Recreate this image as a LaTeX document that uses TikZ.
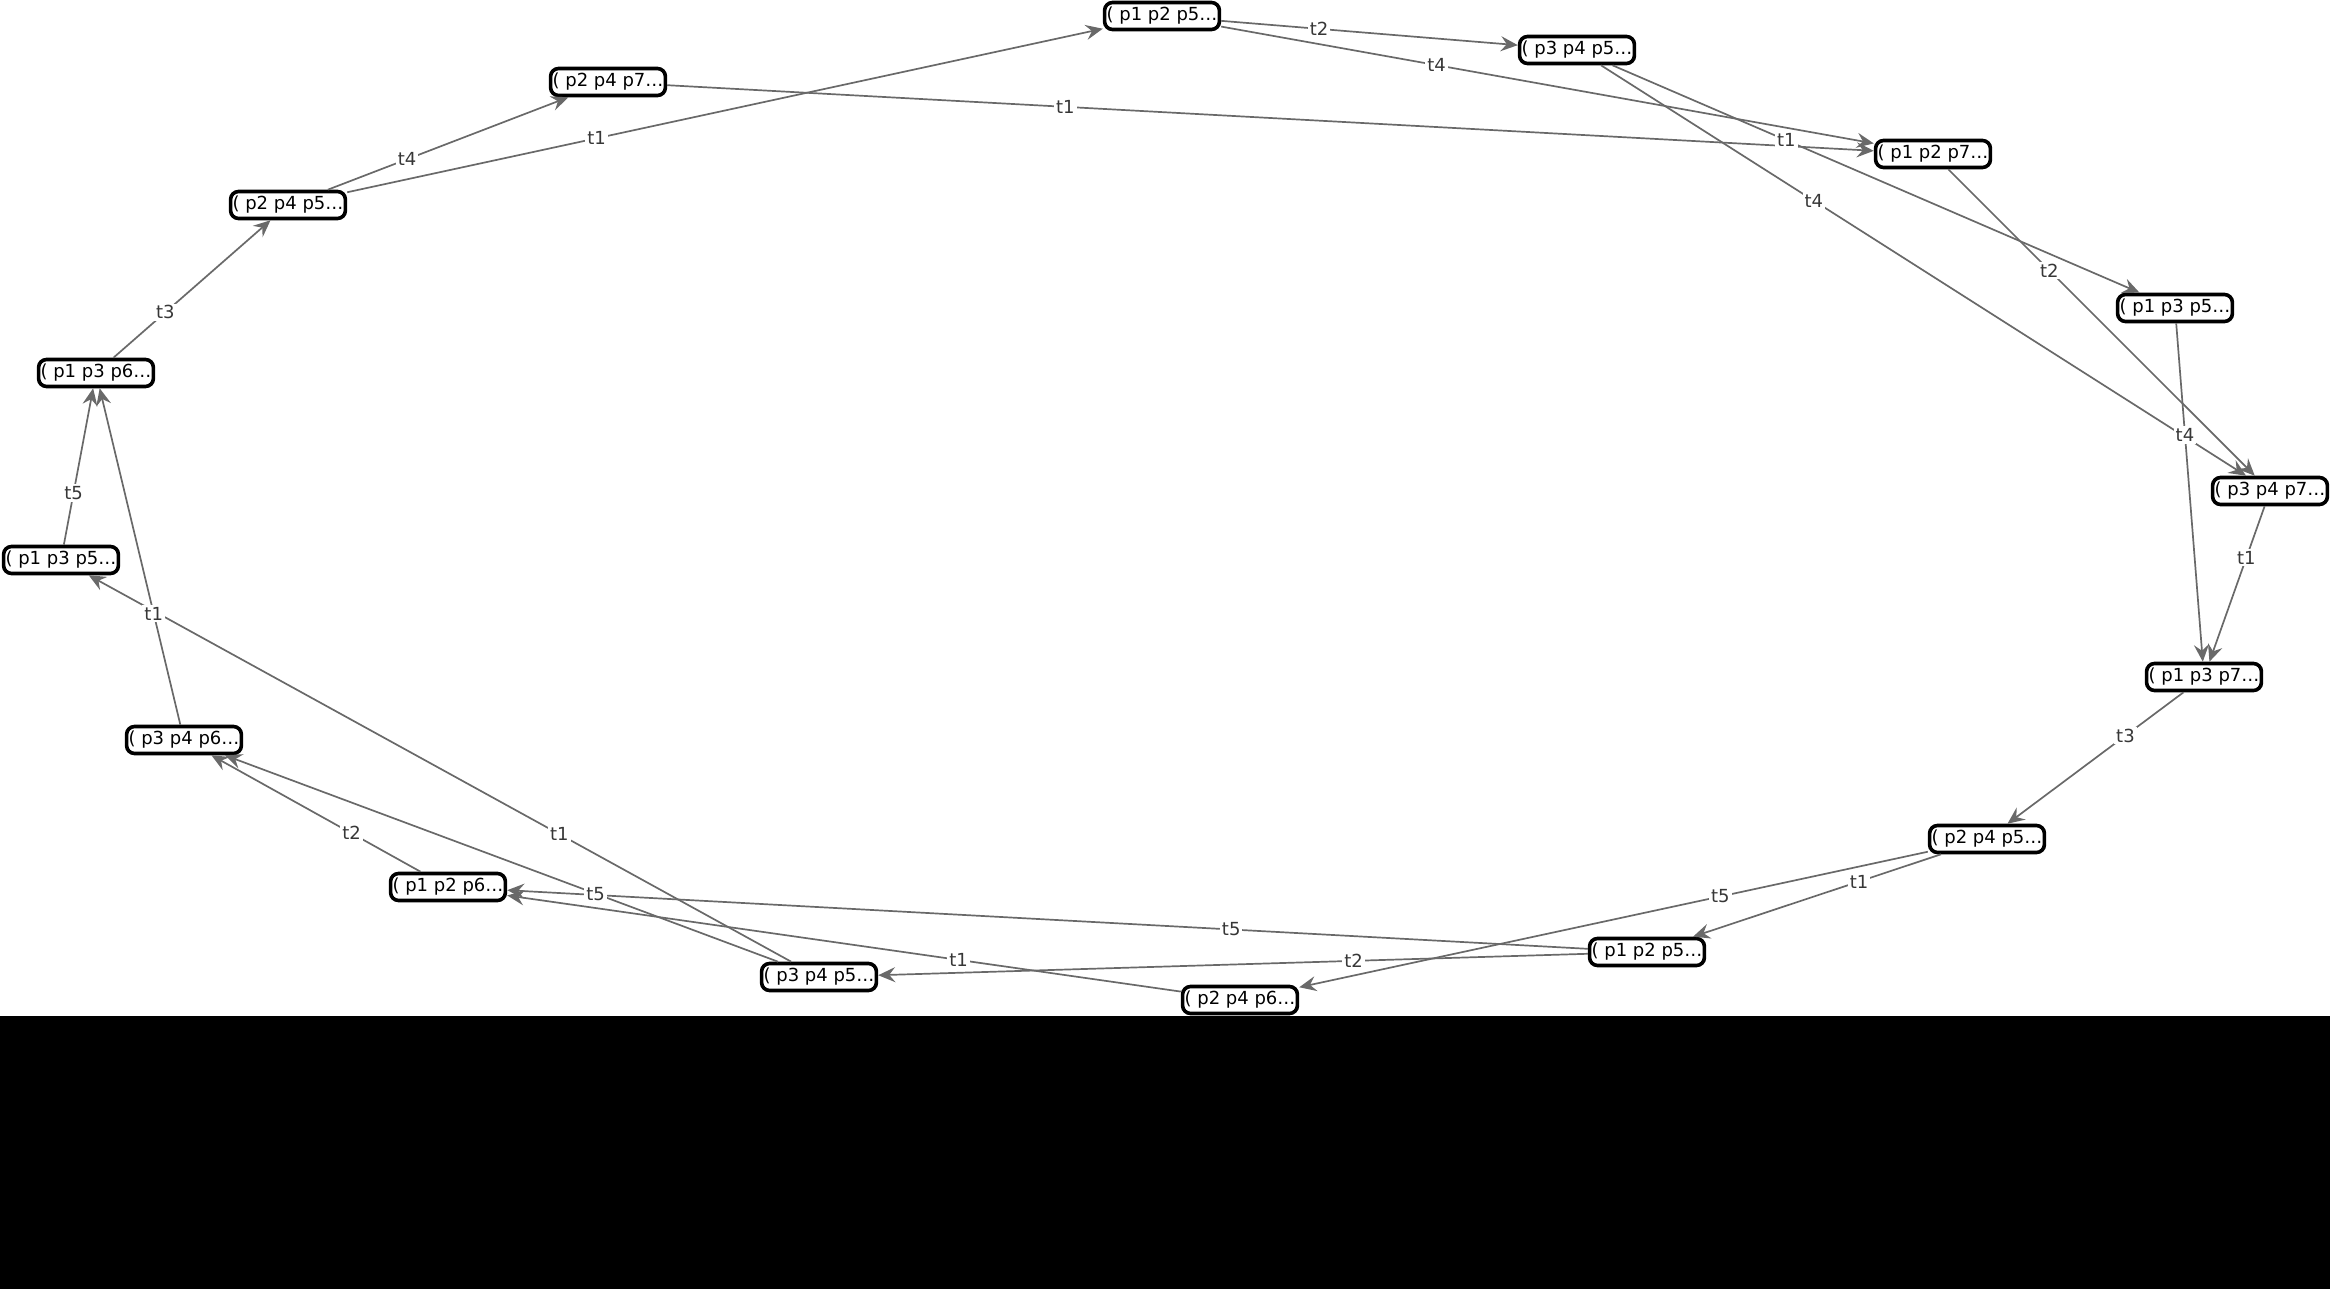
\documentclass[tikz,border=0pt]{standalone}
\usepackage{fontspec}
\setmainfont{DejaVu Sans}
\usetikzlibrary{arrows.meta}
\definecolor{edgegray}{RGB}{105,105,105}
\definecolor{labgray}{RGB}{55,55,55}
\begin{document}
\begin{tikzpicture}[x=0.5pt,y=-0.5pt,
 state/.style={draw=black, line width=1.8pt, rounded corners=4pt, fill=white,
   minimum width=57pt, minimum height=13.5pt, inner sep=1pt,
   font=\fontsize{9}{10}\selectfont},
 tr/.style={draw=edgegray, line width=0.85pt, -{Stealth[length=8.5pt,width=7.5pt,inset=3pt]}},
 lab/.style={fill=white, text=labgray, inner sep=1pt, font=\fontsize{9}{10}\selectfont, pos=0.33}]
\useasboundingbox (0,0) rectangle (2330,1289);
\fill[black] (0,1016) rectangle (2330,1289);

\node[state] (A) at (1162,16) {( p1 p2 p5…};
\node[state] (B) at (1577,50) {( p3 p4 p5…};
\node[state] (C) at (1933,154) {( p1 p2 p7…};
\node[state] (D) at (2175,308) {( p1 p3 p5…};
\node[state] (E) at (2270,491) {( p3 p4 p7…};
\node[state] (F) at (2204,677) {( p1 p3 p7…};
\node[state] (G) at (1987,839) {( p2 p4 p5…};
\node[state] (H) at (1647,952) {( p1 p2 p5…};
\node[state] (I) at (1240,1000) {( p2 p4 p6…};
\node[state] (J) at (819,977) {( p3 p4 p5…};
\node[state] (K) at (448,887) {( p1 p2 p6…};
\node[state] (L) at (184,740) {( p3 p4 p6…};
\node[state] (M) at (61,560) {( p1 p3 p5…};
\node[state] (N) at (96,373) {( p1 p3 p6…};
\node[state] (O) at (288,205) {( p2 p4 p5…};
\node[state] (P) at (608,82) {( p2 p4 p7…};

\draw[tr] (N) -- (O);
\draw[tr] (O) -- (P);
\draw[tr] (O) -- (A);
\draw[tr] (P) -- (C);
\draw[tr] (A) -- (B);
\draw[tr] (A) -- (C);
\draw[tr] (B) -- (D);
\draw[tr] (B) -- (E);
\draw[tr] (C) -- (E);
\draw[tr] (D) -- (F);
\draw[tr] (E) -- (F);
\draw[tr] (F) -- (G);
\draw[tr] (G) -- (H);
\draw[tr] (G) -- (I);
\draw[tr] (H) -- (K);
\draw[tr] (H) -- (J);
\draw[tr] (I) -- (K);
\draw[tr] (J) -- (L);
\draw[tr] (J) -- (M);
\draw[tr] (K) -- (L);
\draw[tr] (L) -- (N);
\draw[tr] (M) -- (N);

\path (N) -- node[lab] (l1) {t3} (O);
\path (O) -- node[lab] (l2) {t4} (P);
\path (O) -- node[lab] (l3) {t1} (A);
\path (P) -- node[lab] (l4) {t1} (C);
\path (A) -- node[lab] (l5) {t2} (B);
\path (A) -- node[lab] (l6) {t4} (C);
\path (B) -- node[lab] (l7) {t1} (D);
\path (B) -- node[lab] (l8) {t4} (E);
\path (C) -- node[lab] (l9) {t2} (E);
\path (D) -- node[lab] (l10) {t4} (F);
\path (E) -- node[lab] (l11) {t1} (F);
\path (F) -- node[lab] (l12) {t3} (G);
\path (G) -- node[lab] (l13) {t1} (H);
\path (G) -- node[lab] (l14) {t5} (I);
\path (H) -- node[lab] (l15) {t5} (K);
\path (H) -- node[lab] (l16) {t2} (J);
\path (I) -- node[lab] (l17) {t1} (K);
\path (J) -- node[lab] (l18) {t5} (L);
\path (J) -- node[lab] (l19) {t1} (M);
\path (K) -- node[lab] (l20) {t2} (L);
\path (L) -- node[lab] (l21) {t1} (N);
\path (M) -- node[lab] (l22) {t5} (N);
\end{tikzpicture}
\end{document}
